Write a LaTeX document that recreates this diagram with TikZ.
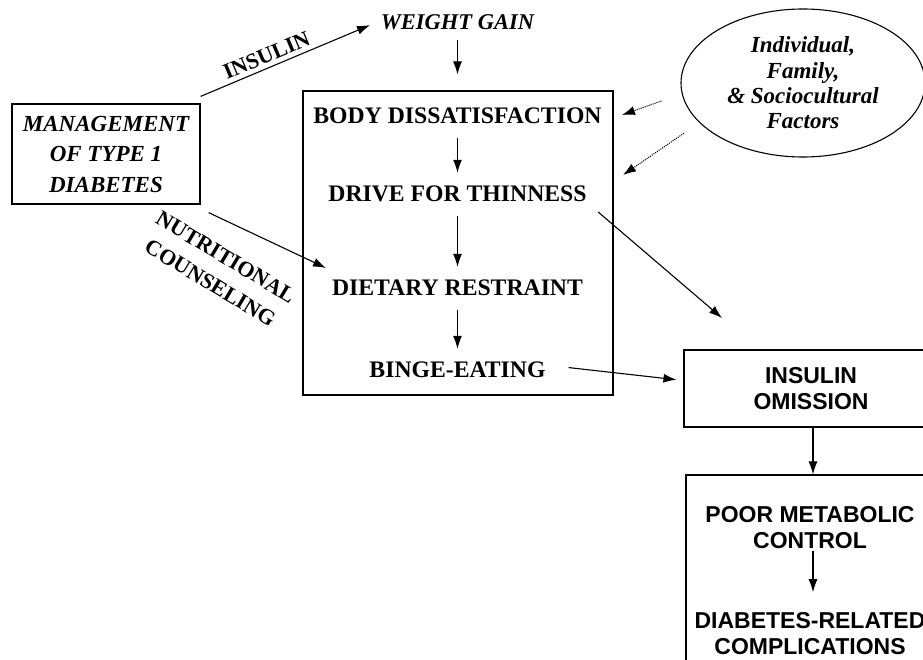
\documentclass[tikz,border=0pt]{standalone}
\usepackage{fontspec}
\setmainfont{Liberation Serif}
\setsansfont{Liberation Sans}
\usetikzlibrary{arrows.meta, shapes.geometric}

\begin{document}
\begin{tikzpicture}[x=1pt, y=-1pt,
    box/.style={draw, line width=1.2pt},
    stage/.style={inner sep=0pt, font=\fontsize{23.7}{27}\selectfont\bfseries},
    outtxt/.style={inner sep=0pt, align=center, font=\fontsize{23}{26}\selectfont\sffamily\bfseries},
    arr/.style={-{Latex[length=13pt, width=9pt]}, line width=1.1pt},
    flow/.style={arr, shorten <=14pt, shorten >=13pt},
    dotarr/.style={arr, densely dotted, line width=1pt}]
    \useasboundingbox (0,0) rectangle (923,660);
    \clip (0,0) rectangle (923,660);

    \node[box, minimum width=188, minimum height=100, align=center,
        font=\fontsize{23}{30.5}\selectfont\bfseries\itshape] (mgmt) at (106,154)
        {MANAGEMENT\\OF TYPE 1\\DIABETES};
    \node[font=\fontsize{22.5}{25}\selectfont\bfseries\itshape] (weight) at (457.5,22) {WEIGHT GAIN};

    \node[box, minimum width=310, minimum height=304] (stages) at (458,243) {};
    \node[stage] (body) at (457.5,116) {BODY DISSATISFACTION};
    \node[stage] (drive) at (457.5,194) {DRIVE FOR THINNESS};
    \node[stage] (restraint) at (457.5,288) {DIETARY RESTRAINT};
    \node[stage] (binge) at (457.5,370) {BINGE-EATING};

    \node[ellipse, draw, line width=1.1pt, minimum width=244, minimum height=148, align=center,
        font=\fontsize{23}{25.3}\selectfont\bfseries\itshape] (factors) at (803,83)
        {Individual,\\Family,\\\& Sociocultural\\Factors};

    \node[box, outtxt, minimum width=254, minimum height=77] (omission) at (811,388.5) {INSULIN\\OMISSION};
    \node[box, minimum width=250, minimum height=230] (outcome) at (811,590) {};
    \node[outtxt] (poor) at (810,527.5) {POOR METABOLIC\\CONTROL};
    \node[outtxt] (compl) at (810,633.5) {DIABETES-RELATED\\COMPLICATIONS};

    \node[rotate=-31, align=center, font=\fontsize{22}{30}\selectfont\bfseries] (nutri) at (218,270)
        {NUTRITIONAL\\COUNSELING};

    \coordinate (nutrin) at (326,268);
    \coordinate (omitin) at (722,318);
    \coordinate (fa) at (622,115);
    \coordinate (fb) at (623,175);

    \draw[arr, shorten >=8pt] ([yshift=7pt]mgmt.north east) -- (weight.west)
        node[pos=0.4, above=1pt, sloped, font=\fontsize{22}{25}\selectfont\bfseries] (insulin) {INSULIN};
    \draw[arr] ([xshift=8pt,yshift=-8pt]mgmt.south east) -- (nutrin);
    \draw[arr, shorten <=7pt, shorten >=16pt] (weight.south) -- (weight.south |- stages.north);

    \draw[flow] (body) -- (drive);
    \draw[flow] (drive) -- (restraint);
    \draw[flow] (restraint) -- (binge);

    \draw[dotarr] ([xshift=-19pt,yshift=-18pt]factors.west) -- (fa);
    \draw[dotarr] ([xshift=-14pt,yshift=-12pt]factors.200) -- (fb);

    \draw[arr, shorten <=15pt] (drive.south east) -- (omitin);
    \draw[arr, shorten <=23pt, shorten >=7pt] ([yshift=5pt]binge.east) -- ([yshift=8pt]omission.west);
    \draw[arr] ([xshift=2pt]omission.south) -- ([xshift=2pt]omission.south |- outcome.north);
    \draw[arr, shorten <=2pt, shorten >=20pt] ([xshift=3pt]poor.south) -- ([xshift=3pt]compl.north);
\end{tikzpicture}
\end{document}
